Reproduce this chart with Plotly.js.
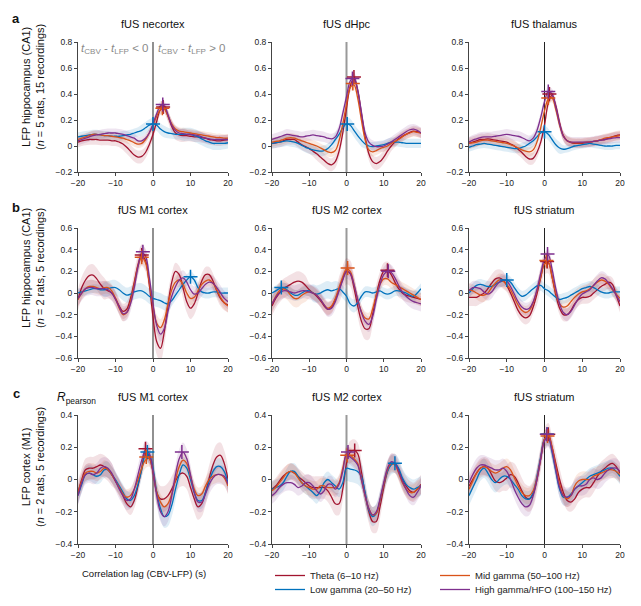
<!DOCTYPE html>
<html>
<head>
<meta charset="utf-8">
<script src="https://cdn.plot.ly/plotly-3.0.1.min.js"></script>
<style>
  html, body { margin: 0; padding: 0; background: #fff; }
  #chart { width: 641px; height: 606px; }
</style>
</head>
<body>
<div id="chart"></div>
<script>
// Correlation lag (s) between CBV and LFP band power
const lag = [-20,-19,-18,-17,-16,-15,-14,-13,-12,-11,
             -10,-9,-8,-7,-6,-5,-4,-3,-2,-1,
             0,1,2,3,4,5,6,7,8,9,
             10,11,12,13,14,15,16,17,18,19,20];

const bandNames = ['Theta (6–10 Hz)', 'Low gamma (20–50 Hz)', 'Mid gamma (50–100 Hz)', 'High gamma/HFO (100–150 Hz)'];
const regionTitles = ['fUS necortex', 'fUS dHpc', 'fUS thalamus',
                      'fUS M1 cortex', 'fUS M2 cortex', 'fUS striatum',
                      'fUS M1 cortex', 'fUS M2 cortex', 'fUS striatum'];
const rowLabels = ['a', 'b', 'c'];
const rowAxisTitles = ['LFP hippocampus (CA1)<br>(<i>n</i> = 5 rats, 15 recordings)',
                       'LFP hippocampus (CA1)<br>(<i>n</i> = 2 rats, 5 recordings)',
                       'LFP cortex (M1)<br>(<i>n</i> = 2 rats, 5 recordings)'];
const rowRanges = [[-0.2, 0.8], [-0.6, 0.6], [-0.4, 0.4]];

// ---- a: LFP CA1 vs fUS neocortex ----
const a1Theta = [.03,.04,.045,.05,.05,.05,.045,.045,.045,.04, .04,.03,.015,-.01,-.04,-.07,-.085,-.08,-.05,.01, .09,.19,.28,.29,.23,.15,.10,.085,.08,.08, .075,.07,.07,.065,.06,.05,.045,.04,.04,.045,.05];
const a1Low   = [.07,.075,.08,.085,.09,.09,.085,.08,.08,.075, .075,.075,.08,.085,.09,.10,.11,.12,.14,.16, .17,.16,.13,.11,.10,.095,.09,.09,.09,.09, .09,.08,.07,.055,.04,.03,.02,.02,.02,.02,.025];
const a1Mid   = [.05,.06,.07,.08,.09,.09,.085,.08,.08,.075, .07,.065,.06,.05,.04,.025,.015,.02,.05,.10, .16,.23,.28,.285,.23,.17,.13,.115,.11,.105, .10,.095,.09,.085,.08,.075,.07,.065,.065,.06,.06];
const a1High  = [.04,.05,.06,.07,.08,.085,.09,.095,.10,.10, .10,.095,.09,.08,.07,.06,.04,.04,.06,.10, .17,.25,.31,.31,.24,.16,.12,.10,.095,.09, .09,.085,.08,.07,.06,.055,.05,.05,.05,.05,.05];
const a1ThetaSem = [.04,.04,.04,.04,.04,.04,.04,.04,.04,.04, .04,.04,.045,.05,.05,.05,.05,.05,.045,.04, .04,.04,.04,.04,.045,.05,.05,.05,.05,.045, .04,.04,.04,.04,.04,.04,.04,.04,.04,.04,.04];
const a1LowSem   = [.035,.035,.035,.035,.035,.035,.035,.035,.035,.035, .035,.035,.035,.035,.035,.035,.035,.045,.045,.045, .045,.045,.045,.045,.04,.04,.04,.04,.05,.05, .05,.05,.05,.05,.05,.05,.05,.05,.05,.045,.045];
const a1MidSem   = [.03,.03,.03,.03,.03,.03,.03,.03,.03,.03, .03,.03,.03,.03,.03,.03,.03,.03,.03,.03, .035,.035,.035,.035,.035,.035,.03,.03,.03,.03, .03,.03,.03,.03,.03,.03,.03,.03,.03,.03,.03];
const a1HighSem  = [.035,.035,.035,.035,.035,.035,.035,.035,.035,.035, .035,.035,.035,.035,.035,.035,.035,.035,.035,.035, .035,.035,.035,.035,.035,.035,.035,.035,.035,.035, .035,.035,.035,.035,.035,.035,.035,.035,.035,.035,.035];
const a1PeakLag = [2.7, 0, 2.5, 2.6];
const a1PeakR   = [.30, .17, .29, .32];

// ---- a: LFP CA1 vs fUS dHpc ----
const a2Theta = [.02,.025,.03,.04,.05,.05,.05,.03,.01,-.005, -.02,-.04,-.06,-.085,-.11,-.135,-.145,-.12,-.04,.10, .29,.46,.52,.43,.25,.07,-.06,-.12,-.135,-.12, -.085,-.04,.0,.03,.055,.075,.09,.105,.115,.11,.10];
const a2Low   = [.02,.025,.03,.035,.04,.035,.03,.02,.005,-.01, -.02,-.03,-.035,-.04,-.035,-.02,.01,.05,.09,.14, .17,.16,.12,.08,.045,.015,.0,-.005,.0,.005, .01,.02,.03,.03,.03,.025,.02,.02,.02,.02,.02];
const a2Mid   = [.03,.035,.04,.05,.06,.065,.06,.05,.04,.03, .02,.01,.0,-.015,-.03,-.045,-.05,-.035,.04,.17, .32,.45,.47,.37,.20,.05,-.03,-.045,-.035,-.02, -.01,.0,.02,.035,.05,.07,.09,.10,.11,.105,.10];
const a2High  = [.05,.06,.07,.08,.09,.085,.08,.075,.07,.075, .08,.085,.08,.075,.07,.06,.055,.07,.13,.25, .38,.50,.53,.43,.26,.10,.03,.005,-.005,-.005, .0,.015,.03,.05,.07,.09,.11,.125,.13,.12,.10];
const a2ThetaSem = [.04,.04,.04,.04,.04,.04,.04,.04,.04,.04, .04,.04,.05,.05,.05,.05,.05,.05,.05,.04, .04,.04,.04,.04,.05,.05,.05,.05,.05,.05, .05,.05,.04,.04,.04,.04,.04,.04,.04,.04,.04];
const a2LowSem   = [.04,.04,.04,.04,.04,.04,.04,.04,.04,.04, .04,.04,.04,.04,.04,.04,.04,.05,.05,.05, .05,.05,.05,.05,.05,.035,.035,.035,.035,.035, .035,.035,.035,.035,.035,.035,.035,.035,.035,.035,.035];
const a2MidSem   = [.035,.035,.035,.035,.035,.035,.035,.035,.035,.035, .035,.035,.035,.035,.035,.035,.035,.035,.035,.035, .035,.035,.035,.035,.035,.035,.035,.035,.035,.035, .035,.035,.035,.035,.035,.035,.035,.035,.035,.035,.035];
const a2HighSem  = [.04,.04,.04,.04,.04,.04,.04,.04,.04,.04, .04,.04,.04,.04,.04,.04,.04,.04,.04,.04, .04,.04,.04,.04,.04,.04,.04,.04,.04,.04, .04,.04,.04,.04,.04,.04,.04,.04,.04,.04,.04];
const a2PeakLag = [2, 0.2, 1.7, 1.6];
const a2PeakR   = [.53, .17, .48, .52];

// ---- a: LFP CA1 vs fUS thalamus ----
const a3Theta = [.02,.03,.04,.05,.05,.055,.05,.045,.04,.035, .03,.015,.0,-.025,-.05,-.08,-.10,-.095,-.05,.03, .16,.33,.39,.31,.18,.08,.04,.025,.02,.02, .02,.025,.03,.035,.04,.045,.05,.06,.07,.08,.085];
const a3Low   = [-.01,.0,.01,.015,.02,.015,.01,.005,.0,-.005, -.01,-.015,-.02,-.02,-.01,.0,.02,.04,.07,.10, .11,.09,.05,.01,-.015,-.025,-.02,-.01,.0,.005, .01,.015,.02,.015,.01,.005,.0,.0,.0,.005,.005];
const a3Mid   = [.02,.025,.03,.04,.045,.045,.04,.035,.03,.025, .02,.01,.0,-.015,-.03,-.04,-.045,-.03,.03,.14, .27,.36,.37,.28,.16,.075,.04,.03,.025,.025, .025,.03,.03,.035,.04,.05,.06,.065,.07,.075,.08];
const a3High  = [.03,.045,.055,.065,.07,.07,.07,.075,.08,.085, .09,.085,.08,.075,.065,.05,.04,.06,.12,.22, .34,.42,.40,.30,.17,.075,.04,.03,.03,.03, .03,.03,.03,.035,.04,.045,.05,.055,.06,.065,.065];
const a3ThetaSem = [.045,.045,.045,.045,.045,.045,.045,.045,.045,.045, .045,.045,.045,.045,.045,.045,.045,.045,.045,.04, .04,.04,.04,.04,.04,.035,.035,.035,.035,.035, .035,.035,.035,.035,.035,.035,.035,.035,.035,.035,.035];
const a3LowSem   = [.035,.035,.035,.035,.035,.035,.035,.035,.035,.035, .035,.035,.035,.035,.035,.035,.045,.045,.045,.045, .045,.045,.045,.045,.045,.03,.03,.03,.03,.03, .03,.03,.03,.03,.03,.03,.03,.03,.03,.03,.03];
const a3MidSem   = [.035,.035,.035,.035,.035,.035,.035,.035,.035,.035, .035,.035,.035,.035,.035,.035,.035,.035,.035,.035, .035,.035,.035,.035,.035,.035,.035,.035,.035,.035, .035,.035,.035,.035,.035,.035,.035,.035,.035,.035,.035];
const a3HighSem  = [.04,.04,.04,.04,.04,.04,.04,.04,.04,.04, .04,.04,.04,.04,.04,.04,.04,.04,.04,.04, .04,.04,.04,.04,.04,.04,.04,.04,.04,.04, .04,.04,.04,.04,.04,.04,.04,.04,.04,.04,.04];
const a3PeakLag = [1.3, 0, 1, 1];
const a3PeakR   = [.40, .11, .37, .42];

// ---- b: LFP CA1 vs fUS M1 cortex ----
const b1Theta = [-.06,.05,.12,.16,.165,.13,.08,.04,.02,.0, -.05,-.12,-.17,-.15,-.05,.10,.26,.35,.30,.08, -.22,-.45,-.51,-.36,-.11,.10,.20,.17,.05,-.08, -.14,-.10,.0,.11,.17,.17,.11,.02,-.05,-.09,-.11];
const b1Low   = [.0,.01,.02,.03,.04,.04,.03,.03,.04,.05, .05,.03,.0,-.02,-.01,.01,.02,.02,.0,-.03, -.05,-.06,-.07,-.09,-.10,-.07,-.02,.03,.08,.12, .15,.12,.05,.01,.0,.0,.01,.01,.0,.0,.0];
const b1Mid   = [-.06,.0,.04,.06,.06,.05,.04,.05,.05,.02, -.05,-.14,-.20,-.18,-.08,.08,.25,.33,.28,.10, -.12,-.28,-.32,-.25,-.10,.03,.10,.12,.08,.0, -.05,-.04,.02,.08,.11,.12,.09,.03,-.04,-.09,-.12];
const b1High  = [-.05,.0,.04,.05,.05,.04,.04,.04,.03,.0, -.06,-.13,-.19,-.18,-.10,.05,.24,.37,.34,.15, -.10,-.30,-.38,-.33,-.17,-.03,.06,.12,.14,.10, .03,-.01,.0,.04,.08,.10,.09,.05,.0,-.05,-.08];
const b1ThetaSem = [.1,.1,.1,.1,.1,.1,.1,.1,.07,.07, .07,.07,.07,.07,.07,.1,.1,.1,.1,.1, .12,.12,.12,.12,.12,.08,.08,.08,.1,.1, .1,.1,.1,.07,.07,.07,.07,.07,.07,.07,.07];
const b1LowSem   = [.04,.04,.04,.04,.04,.04,.04,.07,.07,.07, .07,.07,.07,.07,.07,.07,.07,.07,.07,.07, .07,.07,.07,.07,.07,.05,.05,.05,.05,.05, .05,.05,.05,.05,.05,.05,.05,.05,.05,.05,.05];
const b1MidSem   = [.06,.06,.06,.06,.06,.06,.06,.06,.06,.06, .06,.06,.06,.06,.06,.06,.06,.06,.06,.06, .08,.08,.08,.08,.08,.06,.06,.06,.06,.06, .06,.06,.06,.06,.06,.06,.06,.06,.06,.06,.06];
const b1HighSem  = [.07,.07,.07,.07,.07,.07,.07,.07,.07,.07, .07,.07,.07,.07,.07,.07,.07,.07,.07,.07, .07,.07,.07,.07,.07,.07,.07,.07,.07,.07, .07,.07,.07,.07,.07,.07,.07,.07,.07,.07,.07];
const b1PeakLag = [-3, 10, -3, -2.7];
const b1PeakR   = [.35, .15, .33, .38];

// ---- b: LFP CA1 vs fUS M2 cortex ----
const b2Theta = [-.12,-.05,.0,.04,.06,.08,.10,.11,.10,.07, .03,.0,-.03,-.07,-.12,-.15,-.13,-.06,.03,.13, .20,.18,.05,-.12,-.26,-.33,-.33,-.20,-.02,.12, .20,.21,.17,.10,.04,.0,-.02,-.03,-.04,-.05,-.06];
const b2Low   = [.0,.02,.04,.05,.03,.0,-.02,-.02,.0,.02, .02,.0,-.01,.0,.02,.03,.02,.03,.04,.01, -.03,-.10,-.12,-.09,-.03,.01,.01,.0,.01,.02, .0,-.01,.0,.02,.02,.01,.0,-.02,-.03,.0,.04];
const b2Mid   = [-.10,-.03,.02,.04,.02,-.02,-.05,-.05,-.02,.0, .01,.0,-.02,-.06,-.11,-.14,-.12,-.05,.05,.15, .22,.20,.08,-.06,-.17,-.23,-.24,-.15,-.02,.08, .13,.13,.10,.08,.06,.04,.02,.0,-.02,-.04,-.06];
const b2High  = [-.10,-.04,.0,.02,.02,.01,.0,.01,.02,.02, .01,.0,-.02,-.06,-.11,-.15,-.14,-.08,.02,.12, .20,.18,.08,-.06,-.18,-.26,-.29,-.22,-.06,.08, .17,.20,.19,.14,.07,.01,-.03,-.06,-.08,-.09,-.10];
const b2ThetaSem = [.09,.09,.09,.09,.09,.09,.09,.09,.09,.09, .06,.06,.06,.06,.06,.06,.06,.06,.12,.12, .12,.12,.12,.1,.1,.1,.1,.1,.1,.08, .08,.08,.08,.08,.08,.06,.06,.06,.06,.06,.06];
const b2LowSem   = [.05,.05,.05,.05,.05,.05,.05,.05,.05,.05, .05,.08,.08,.08,.08,.08,.08,.08,.06,.06, .06,.06,.06,.06,.05,.05,.05,.05,.05,.05, .05,.05,.05,.05,.05,.05,.05,.05,.05,.05,.05];
const b2MidSem   = [.08,.08,.08,.08,.08,.08,.08,.08,.08,.08, .06,.06,.06,.06,.06,.06,.06,.06,.06,.06, .06,.06,.06,.06,.06,.06,.06,.06,.06,.06, .06,.06,.06,.06,.06,.06,.06,.06,.06,.06,.06];
const b2HighSem  = [.07,.07,.07,.07,.07,.07,.07,.07,.07,.07, .07,.07,.07,.07,.07,.07,.07,.07,.07,.07, .07,.07,.07,.07,.07,.07,.07,.07,.07,.07, .07,.07,.07,.07,.07,.07,.07,.07,.07,.07,.07];
const b2PeakLag = [11, -17.5, 0.3, 11.2];
const b2PeakR   = [.21, .05, .23, .20];

// ---- b: LFP CA1 vs fUS striatum ----
const b3Theta = [-.04,-.04,-.04,-.02,.0,.04,.09,.13,.14,.12, .07,.0,-.08,-.16,-.21,-.23,-.21,-.13,-.01,.14, .27,.28,.15,-.02,-.14,-.20,-.20,-.16,-.10,-.06, -.04,-.04,-.03,.0,.03,.06,.08,.10,.08,-.02,-.12];
const b3Low   = [.0,.04,.07,.08,.07,.06,.06,.08,.10,.11, .12,.10,.05,.0,-.03,-.02,.01,.04,.065,.07, .04,.02,-.01,-.04,-.06,-.05,-.04,-.02,.0,.02, .04,.05,.06,.05,.03,.01,.0,.0,.01,.01,.01];
const b3Mid   = [.03,.02,.0,-.02,-.02,.0,.05,.09,.12,.11, .08,.03,-.04,-.11,-.16,-.18,-.16,-.09,.02,.15, .27,.28,.15,.0,-.10,-.13,-.12,-.08,-.04,-.01, .01,.02,.04,.07,.10,.12,.11,.08,.03,-.01,-.05];
const b3High  = [.02,.05,.05,.04,.01,-.01,.01,.06,.10,.12, .11,.06,-.01,-.08,-.13,-.15,-.14,-.08,.03,.18, .31,.35,.22,.04,-.10,-.18,-.20,-.17,-.11,-.05, -.01,.01,.03,.07,.11,.14,.13,.09,.04,-.02,-.08];
const b3ThetaSem = [.08,.08,.08,.08,.08,.08,.08,.08,.08,.08, .06,.06,.06,.06,.06,.06,.06,.06,.1,.1, .1,.1,.1,.06,.06,.06,.06,.06,.06,.06, .06,.06,.06,.06,.06,.06,.06,.06,.06,.06,.06];
const b3LowSem   = [.05,.05,.05,.05,.05,.05,.05,.05,.05,.05, .05,.05,.05,.05,.05,.05,.05,.05,.05,.05, .05,.05,.05,.05,.05,.05,.05,.05,.05,.05, .05,.05,.05,.05,.05,.05,.05,.05,.05,.05,.05];
const b3MidSem   = [.06,.06,.06,.06,.06,.06,.06,.06,.06,.06, .06,.06,.06,.06,.06,.06,.06,.06,.06,.06, .06,.06,.06,.06,.06,.06,.06,.06,.06,.06, .06,.06,.06,.06,.06,.06,.06,.06,.06,.06,.06];
const b3HighSem  = [.06,.06,.06,.06,.06,.06,.06,.06,.06,.06, .06,.06,.06,.06,.06,.06,.06,.06,.06,.06, .06,.06,.06,.06,.06,.06,.06,.06,.06,.06, .06,.06,.06,.06,.06,.06,.06,.06,.06,.06,.06];
const b3PeakLag = [0.7, -10, 0.5, 0.8];
const b3PeakR   = [.29, .12, .30, .36];

// ---- c: LFP M1 vs fUS M1 cortex ----
const c1Theta = [-.08,.0,.06,.07,.07,.08,.09,.08,.06,.03, -.01,-.05,-.10,-.15,-.17,-.13,-.04,.07,.18,.14, .05,-.08,-.12,-.12,-.10,-.06,-.01,.03,.04,.02, -.05,-.12,-.17,-.15,-.08,.01,.09,.14,.15,.10,.0];
const c1Low   = [-.10,-.03,.03,.04,.03,.02,.03,.06,.06,.03, .0,-.04,-.08,-.12,-.13,-.10,-.03,.06,.15,.15, .07,-.08,-.18,-.23,-.22,-.16,-.06,.03,.09,.07, .0,-.08,-.13,-.13,-.08,-.01,.05,.08,.08,.05,-.02];
const c1Mid   = [-.08,-.01,.04,.05,.05,.04,.05,.07,.06,.03, -.01,-.05,-.09,-.11,-.10,-.06,.0,.07,.12,.13, .05,-.08,-.14,-.17,-.15,-.09,.0,.08,.12,.10, .02,-.06,-.10,-.09,-.04,.0,.02,.03,.03,.01,-.04];
const c1High  = [-.10,-.02,.03,.04,.03,.04,.07,.08,.07,.04, -.01,-.06,-.10,-.13,-.12,-.06,.03,.12,.18,.16, .05,-.10,-.20,-.23,-.20,-.10,.03,.13,.17,.13, .03,-.08,-.14,-.14,-.09,-.03,.01,.03,.03,.02,-.03];
const c1ThetaSem = [.07,.07,.07,.07,.07,.07,.07,.07,.07,.07, .05,.05,.05,.05,.05,.05,.05,.05,.05,.05, .08,.08,.08,.08,.08,.08,.08,.08,.08,.08, .08,.08,.08,.08,.08,.08,.08,.08,.08,.08,.08];
const c1LowSem   = [.05,.05,.05,.05,.05,.05,.05,.05,.05,.05, .05,.05,.05,.05,.05,.05,.05,.05,.05,.05, .07,.07,.07,.07,.07,.07,.07,.05,.05,.05, .05,.05,.05,.05,.05,.05,.05,.05,.05,.05,.05];
const c1MidSem   = [.05,.05,.05,.05,.05,.05,.05,.05,.05,.05, .05,.05,.05,.05,.05,.05,.05,.05,.05,.05, .05,.05,.05,.05,.05,.05,.05,.05,.05,.05, .05,.05,.05,.05,.05,.05,.05,.05,.05,.05,.05];
const c1HighSem  = [.06,.06,.06,.06,.06,.06,.06,.06,.06,.06, .06,.06,.06,.06,.06,.06,.06,.06,.06,.06, .06,.06,.06,.06,.06,.06,.06,.06,.06,.06, .06,.06,.06,.06,.06,.06,.06,.06,.06,.06,.06];
const c1PeakLag = [-2, -1.5, -1.8, 7.7];
const c1PeakR   = [.19, .17, .14, .17];

// ---- c: LFP M1 vs fUS M2 cortex ----
const c2Theta = [-.06,-.04,-.01,.02,.04,.05,.04,.02,.0,-.02, -.04,-.05,-.05,-.05,-.05,-.07,-.11,-.15,-.15,-.06, .10,.17,.18,.16,.05,-.09,-.20,-.26,-.26,-.17, -.05,.05,.10,.10,.06,.0,-.04,-.07,-.08,-.06,-.03];
const c2Low   = [-.06,-.05,-.04,-.02,.02,.05,.05,.02,-.02,-.04, -.06,-.08,-.10,-.07,-.02,.0,-.02,-.04,-.06,-.02, .07,.065,.06,.05,.02,-.08,-.19,-.23,-.21,-.13, -.03,.05,.09,.10,.07,.01,-.03,-.05,-.06,-.05,-.04];
const c2Mid   = [-.07,-.05,-.02,.01,.04,.05,.04,.01,-.02,-.04, -.05,-.06,-.06,-.04,-.04,-.05,-.05,-.05,-.02,.07, .15,.15,.13,.10,.0,-.10,-.18,-.22,-.21,-.13, -.03,.06,.10,.09,.04,-.02,-.06,-.08,-.08,-.06,-.04];
const c2High  = [-.10,-.08,-.05,-.03,-.02,-.02,-.03,-.05,-.04,-.02, -.02,-.04,-.07,-.09,-.07,-.03,-.03,-.06,-.03,.05, .16,.14,.12,.09,.0,-.10,-.18,-.22,-.20,-.12, -.02,.07,.11,.10,.05,-.01,-.06,-.10,-.11,-.08,-.04];
const c2ThetaSem = [.05,.05,.05,.05,.05,.05,.05,.05,.05,.05, .07,.07,.07,.07,.07,.07,.07,.07,.07,.07, .07,.07,.07,.07,.07,.07,.07,.07,.07,.07, .06,.06,.06,.06,.06,.06,.06,.06,.06,.06,.06];
const c2LowSem   = [.05,.05,.05,.05,.05,.05,.05,.05,.05,.05, .05,.05,.05,.05,.05,.05,.05,.05,.05,.05, .08,.08,.08,.08,.08,.08,.06,.06,.06,.06, .06,.06,.06,.06,.06,.06,.06,.06,.06,.06,.06];
const c2MidSem   = [.05,.05,.05,.05,.05,.05,.05,.05,.05,.05, .05,.05,.05,.05,.05,.05,.05,.05,.05,.05, .05,.05,.05,.05,.05,.05,.05,.05,.05,.05, .05,.05,.05,.05,.05,.05,.05,.05,.05,.05,.05];
const c2HighSem  = [.05,.05,.05,.05,.05,.05,.05,.05,.05,.05, .05,.05,.05,.05,.05,.05,.05,.05,.05,.05, .05,.05,.05,.05,.05,.05,.05,.05,.05,.05, .05,.05,.05,.05,.05,.05,.05,.05,.05,.05,.05];
const c2PeakLag = [2.2, 13, 0.2, 0.4];
const c2PeakR   = [.18, .10, .15, .17];

// ---- c: LFP M1 vs fUS striatum ----
const c3Theta = [-.04,.0,.04,.07,.08,.07,.03,-.01,-.02,-.01, .01,.03,.02,-.02,-.07,-.11,-.12,-.09,.0,.13, .25,.28,.20,.10,.0,-.08,-.13,-.14,-.12,-.08, -.06,-.05,-.05,-.02,.02,.05,.07,.09,.10,.08,.04];
const c3Low   = [-.10,-.05,.0,.05,.07,.04,.0,-.02,.0,.02, .02,.0,-.03,-.06,-.10,-.12,-.12,-.08,.02,.14, .25,.26,.17,.05,-.06,-.11,-.11,-.09,-.06,-.04, -.02,.0,.02,.03,.04,.05,.06,.07,.07,.05,.02];
const c3Mid   = [-.06,-.01,.04,.07,.08,.07,.05,.04,.05,.07, .08,.06,.01,-.04,-.08,-.10,-.10,-.07,.01,.13, .25,.27,.20,.08,-.03,-.10,-.12,-.10,-.04,-.01, .0,.0,.0,.02,.03,.04,.05,.06,.06,.05,.03];
const c3High  = [-.02,.03,.07,.09,.09,.08,.07,.06,.06,.07, .05,.0,-.06,-.11,-.15,-.17,-.16,-.10,.0,.13, .24,.26,.18,.06,-.05,-.10,-.11,-.10,-.06,-.04, -.04,-.03,.0,.01,.0,.01,.04,.06,.07,.07,.05];
const c3ThetaSem = [.06,.06,.06,.06,.06,.06,.06,.06,.06,.06, .08,.08,.08,.08,.08,.08,.08,.08,.08,.08, .07,.07,.07,.07,.07,.06,.06,.06,.06,.06, .06,.06,.06,.06,.06,.06,.06,.06,.06,.06,.06];
const c3LowSem   = [.06,.06,.06,.06,.06,.06,.06,.06,.06,.06, .05,.05,.05,.05,.05,.05,.05,.05,.05,.05, .05,.05,.05,.05,.05,.05,.05,.05,.05,.05, .05,.05,.05,.05,.05,.05,.05,.05,.05,.05,.05];
const c3MidSem   = [.05,.05,.05,.05,.05,.05,.05,.05,.05,.05, .05,.05,.05,.05,.05,.05,.05,.05,.05,.05, .05,.05,.05,.05,.05,.05,.05,.05,.05,.05, .05,.05,.05,.05,.05,.05,.05,.05,.05,.05,.05];
const c3HighSem  = [.06,.06,.06,.06,.06,.06,.06,.06,.06,.06, .06,.06,.06,.06,.06,.06,.06,.06,.06,.06, .06,.06,.06,.06,.06,.06,.06,.06,.06,.06, .06,.06,.06,.06,.06,.06,.06,.06,.06,.06,.06];
const c3PeakLag = [1, 0.7, 0.8, 0.6];
const c3PeakR   = [.28, .28, .27, .28];

// ---------------------------------------------------------------
const panels = [
  { r: [a1Theta, a1Low, a1Mid, a1High], sem: [a1ThetaSem, a1LowSem, a1MidSem, a1HighSem], pk: [a1PeakLag, a1PeakR] },
  { r: [a2Theta, a2Low, a2Mid, a2High], sem: [a2ThetaSem, a2LowSem, a2MidSem, a2HighSem], pk: [a2PeakLag, a2PeakR] },
  { r: [a3Theta, a3Low, a3Mid, a3High], sem: [a3ThetaSem, a3LowSem, a3MidSem, a3HighSem], pk: [a3PeakLag, a3PeakR] },
  { r: [b1Theta, b1Low, b1Mid, b1High], sem: [b1ThetaSem, b1LowSem, b1MidSem, b1HighSem], pk: [b1PeakLag, b1PeakR] },
  { r: [b2Theta, b2Low, b2Mid, b2High], sem: [b2ThetaSem, b2LowSem, b2MidSem, b2HighSem], pk: [b2PeakLag, b2PeakR] },
  { r: [b3Theta, b3Low, b3Mid, b3High], sem: [b3ThetaSem, b3LowSem, b3MidSem, b3HighSem], pk: [b3PeakLag, b3PeakR] },
  { r: [c1Theta, c1Low, c1Mid, c1High], sem: [c1ThetaSem, c1LowSem, c1MidSem, c1HighSem], pk: [c1PeakLag, c1PeakR] },
  { r: [c2Theta, c2Low, c2Mid, c2High], sem: [c2ThetaSem, c2LowSem, c2MidSem, c2HighSem], pk: [c2PeakLag, c2PeakR] },
  { r: [c3Theta, c3Low, c3Mid, c3High], sem: [c3ThetaSem, c3LowSem, c3MidSem, c3HighSem], pk: [c3PeakLag, c3PeakR] }
];

// Styling
const W = 641, H = 606;
const lineColors = ['#A2142F', '#0072BD', '#D95319', '#7E2F8E'];
const bandFills  = ['rgba(162,20,47,0.13)', 'rgba(0,114,189,0.13)', 'rgba(217,83,25,0.13)', 'rgba(126,47,142,0.13)'];
const legendItemWidth = [120, 120, 150, 150];        // px per legend entry (first column / second column)
const colPx = [[78, 228], [272, 421], [469, 620]];   // plot left/right in px
const rowPx = [[42, 172], [228, 358], [415, 544]];   // plot top/bottom in px
const zeroLineStyle = [{ color: '#555', width: 1.3 }, { color: '#999', width: 2 }, { color: '#222', width: 1 }];
const fontFamily = '"Liberation Sans", Arial, Helvetica, sans-serif';

const px = v => v / W;
const py = v => 1 - v / H;

const legendBase = {
  orientation: 'h', xanchor: 'left', yanchor: 'top', traceorder: 'normal',
  font: { size: 9.5, color: '#222' }, bgcolor: 'rgba(0,0,0,0)', borderwidth: 0,
  itemclick: false, itemdoubleclick: false
};

const traces = [];
const layout = {
  width: W, height: H,
  margin: { l: 0, r: 0, t: 0, b: 0 },
  paper_bgcolor: '#fff', plot_bgcolor: 'rgba(0,0,0,0)',
  font: { family: fontFamily, color: '#222', size: 10 },
  showlegend: true,
  shapes: [], annotations: [],
  legend:  Object.assign({}, legendBase, { x: px(270), y: py(561) }),
  legend2: Object.assign({}, legendBase, { x: px(270), y: py(575) })
};

panels.forEach((p, k) => {
  const row = Math.floor(k / 3), col = k % 3;
  const sfx = k === 0 ? '' : String(k + 1);
  const xa = 'x' + sfx, ya = 'y' + sfx;

  layout['xaxis' + sfx] = {
    domain: [px(colPx[col][0]), px(colPx[col][1])], anchor: ya,
    range: [-20, 20], tick0: 0, dtick: 10,
    showline: true, linecolor: '#444', linewidth: 1, mirror: false,
    ticks: 'outside', ticklen: 3, tickwidth: 1, tickcolor: '#444',
    showgrid: false, zeroline: false, tickfont: { size: 8.5, color: '#222' }, fixedrange: true
  };
  layout['yaxis' + sfx] = {
    domain: [py(rowPx[row][1]), py(rowPx[row][0])], anchor: xa,
    range: rowRanges[row], tick0: 0, dtick: 0.2,
    showline: true, linecolor: '#444', linewidth: 1,
    ticks: 'outside', ticklen: 3, tickwidth: 1, tickcolor: '#444',
    showgrid: false, zeroline: false, tickfont: { size: 8.5, color: '#222' }, fixedrange: true
  };

  // zero-lag marker line
  layout.shapes.push({
    type: 'line', layer: 'below', xref: xa, yref: ya + ' domain',
    x0: 0, x1: 0, y0: 0, y1: 1, line: zeroLineStyle[col]
  });

  // SEM bands
  for (let s = 0; s < 4; s++) {
    const v = p.r[s], e = p.sem[s];
    traces.push({
      x: lag, y: v.map((val, i) => val - e[i]), xaxis: xa, yaxis: ya,
      type: 'scatter', mode: 'lines', line: { width: 0, shape: 'spline' },
      showlegend: false, hoverinfo: 'skip'
    });
    traces.push({
      x: lag, y: v.map((val, i) => val + e[i]), xaxis: xa, yaxis: ya,
      type: 'scatter', mode: 'lines', line: { width: 0, shape: 'spline' },
      fill: 'tonexty', fillcolor: bandFills[s], showlegend: false, hoverinfo: 'skip'
    });
  }
  // mean cross-correlation curves
  for (let s = 0; s < 4; s++) {
    traces.push({
      x: lag, y: p.r[s], xaxis: xa, yaxis: ya,
      type: 'scatter', mode: 'lines', name: bandNames[s],
      line: { color: lineColors[s], width: 1.3, shape: 'spline' },
      showlegend: k === 0, legend: (s === 0 || s === 2) ? 'legend' : 'legend2',
      legendwidth: legendItemWidth[s]
    });
  }
  // peak markers
  traces.push({
    x: p.pk[0], y: p.pk[1], xaxis: xa, yaxis: ya,
    type: 'scatter', mode: 'markers', showlegend: false, hoverinfo: 'skip',
    marker: { symbol: 'cross-thin', size: 10, color: lineColors, line: { color: lineColors, width: 1.5 } }
  });

  // subplot title
  layout.annotations.push({
    text: regionTitles[k], xref: 'paper', yref: 'paper',
    x: px((colPx[col][0] + colPx[col][1]) / 2), y: py(rowPx[row][0] - 18),
    xanchor: 'center', yanchor: 'middle', showarrow: false,
    font: { size: 11, color: '#111' }
  });
});

// row letters and row axis titles
const rowLetterY = [18, 207, 393];
const rowTitleY = [87, 268, 467];
rowLabels.forEach((lab, r) => {
  layout.annotations.push({
    text: '<b>' + lab + '</b>', xref: 'paper', yref: 'paper', x: px(16), y: py(rowLetterY[r]),
    xanchor: 'center', yanchor: 'middle', showarrow: false, font: { size: 13, color: '#111' }
  });
  layout.annotations.push({
    text: rowAxisTitles[r], xref: 'paper', yref: 'paper', x: px(33), y: py(rowTitleY[r]),
    xanchor: 'center', yanchor: 'middle', showarrow: false, textangle: -90,
    font: { size: 11, color: '#111' }
  });
});

// lag-sign notes in the first panel
layout.annotations.push({
  text: '<i>t</i><sub>CBV</sub> - <i>t</i><sub>LFP</sub> &lt; 0', xref: 'x', yref: 'y',
  x: 0, y: 0.75, xanchor: 'right', yanchor: 'middle', xshift: -3, showarrow: false,
  font: { size: 11.5, color: '#8a8a8a' }
});
layout.annotations.push({
  text: '<i>t</i><sub>CBV</sub> - <i>t</i><sub>LFP</sub> &gt; 0', xref: 'x', yref: 'y',
  x: 0, y: 0.75, xanchor: 'left', yanchor: 'middle', xshift: 3, showarrow: false,
  font: { size: 11.5, color: '#8a8a8a' }
});
// quantity label and shared x-axis title
layout.annotations.push({
  text: '<i>R</i><sub>pearson</sub>', xref: 'paper', yref: 'paper', x: px(76), y: py(398),
  xanchor: 'center', yanchor: 'middle', showarrow: false, font: { size: 12, color: '#111' }
});
layout.annotations.push({
  text: 'Correlation lag (CBV-LFP) (s)', xref: 'paper', yref: 'paper', x: px(144), y: py(573),
  xanchor: 'center', yanchor: 'middle', showarrow: false, font: { size: 9.5, color: '#111' }
});

Plotly.newPlot('chart', traces, layout, { displayModeBar: false, staticPlot: true });
</script>
</body>
</html>
